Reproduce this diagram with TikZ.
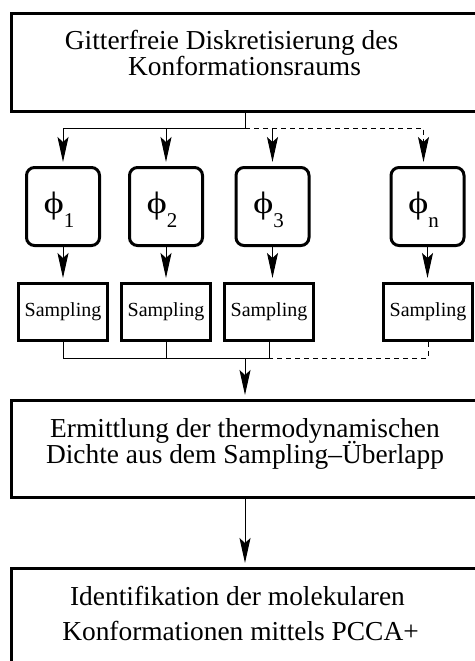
\documentclass[tikz,border=0pt]{standalone}
\usepackage{fontspec}
\setmainfont{Liberation Serif}
\usetikzlibrary{arrows.meta}
\newcommand{\phisub}[1]{\scalebox{1.25}[1]{ϕ}\raisebox{-14pt}{\fontsize{21}{21}\selectfont #1}\kern8pt}

\begin{document}
\begin{tikzpicture}[x=1pt,y=-1pt,
    bigbox/.style={draw,line width=3pt,minimum width=467pt,minimum height=97pt,inner sep=0pt},
    phibox/.style={draw,line width=3pt,rounded corners=8pt,minimum width=73pt,minimum height=78pt,
      inner sep=0pt,text height=22pt,text depth=9pt,font=\fontsize{31}{31}\selectfont},
    sampbox/.style={draw,line width=3pt,minimum width=89pt,minimum height=57pt,inner sep=0pt,
      font=\fontsize{20}{20}\selectfont},
    txt/.style={anchor=base,inner sep=0pt,font=\fontsize{27.4}{27.4}\selectfont},
    conn/.style={line width=1pt},
    arr/.style={conn,-{Stealth[length=25pt,width=11pt,inset=5pt]},shorten >=4pt},
    dashline/.style={dash pattern=on 5pt off 4pt}]
  \useasboundingbox (0,0) rectangle (474,661);
  % boxes
  \node[bigbox] (top) at (245,62.5) {};
  \node[txt] (topA) at (231.5,50) {Gitterfreie Diskretisierung des};
  \node[txt] (topB) at (244.5,75) {Konformationsraums};
  \draw
    (63,206.5) node[phibox] (phi1) {\phisub{1}}
    (166,206.5) node[phibox] (phi2) {\phisub{2}}
    (272.5,206.5) node[phibox] (phi3) {\phisub{3}}
    (427.5,206.5) node[phibox] (phin) {\phisub{n}};
  \draw
    (63,312) node[sampbox] (samp1) {Sampling}
    (166,312) node[sampbox] (samp2) {Sampling}
    (269,312) node[sampbox] (samp3) {Sampling}
    (428,312) node[sampbox] (sampn) {Sampling};
  \node[bigbox] (dens) at (245,449) {};
  \node[txt] (densA) at (245,437) {Ermittlung der thermodynamischen};
  \node[txt] (densB) at (245,463) {Dichte aus dem Sampling–Überlapp};
  \node[bigbox] (pcca) at (245,617) {};
  \node[txt] (pccaA) at (237.5,605) {Identifikation der molekularen};
  \node[txt] (pccaB) at (240.5,640) {Konformationen mittels PCCA+};
  % connectors
  \coordinate (split) at (245,128);
  \coordinate (merge) at (245,358);
  \draw[conn] (top.south) -- (split);
  \draw[arr] (split) -| (phi1.north);
  \draw[arr] (split) -| (phi2.north);
  \draw[arr,dashline] (split) -| ([xshift=-4pt]phin.north);
  \draw[arr] (phi3.north |- split) -- (phi3.north);
  \draw[arr] (phi1.south) -- (phi1.south |- samp1.north);
  \draw[arr] (phi2.south) -- (phi2.south |- samp2.north);
  \draw[arr] (phi3.south) -- (phi3.south |- samp3.north);
  \draw[arr] (phin.south) -- (phin.south |- sampn.north);
  \draw[conn] (samp1.south) |- (merge);
  \draw[conn] (samp2.south) -- (samp2.south |- merge);
  \draw[conn] (samp3.south) |- (merge);
  \draw[conn,dashline] (sampn.south) |- (samp3.south |- merge);
  \draw[arr] (merge) -- (dens.north);
  \draw[arr] (dens.south) -- (pcca.north);
\end{tikzpicture}
\end{document}
